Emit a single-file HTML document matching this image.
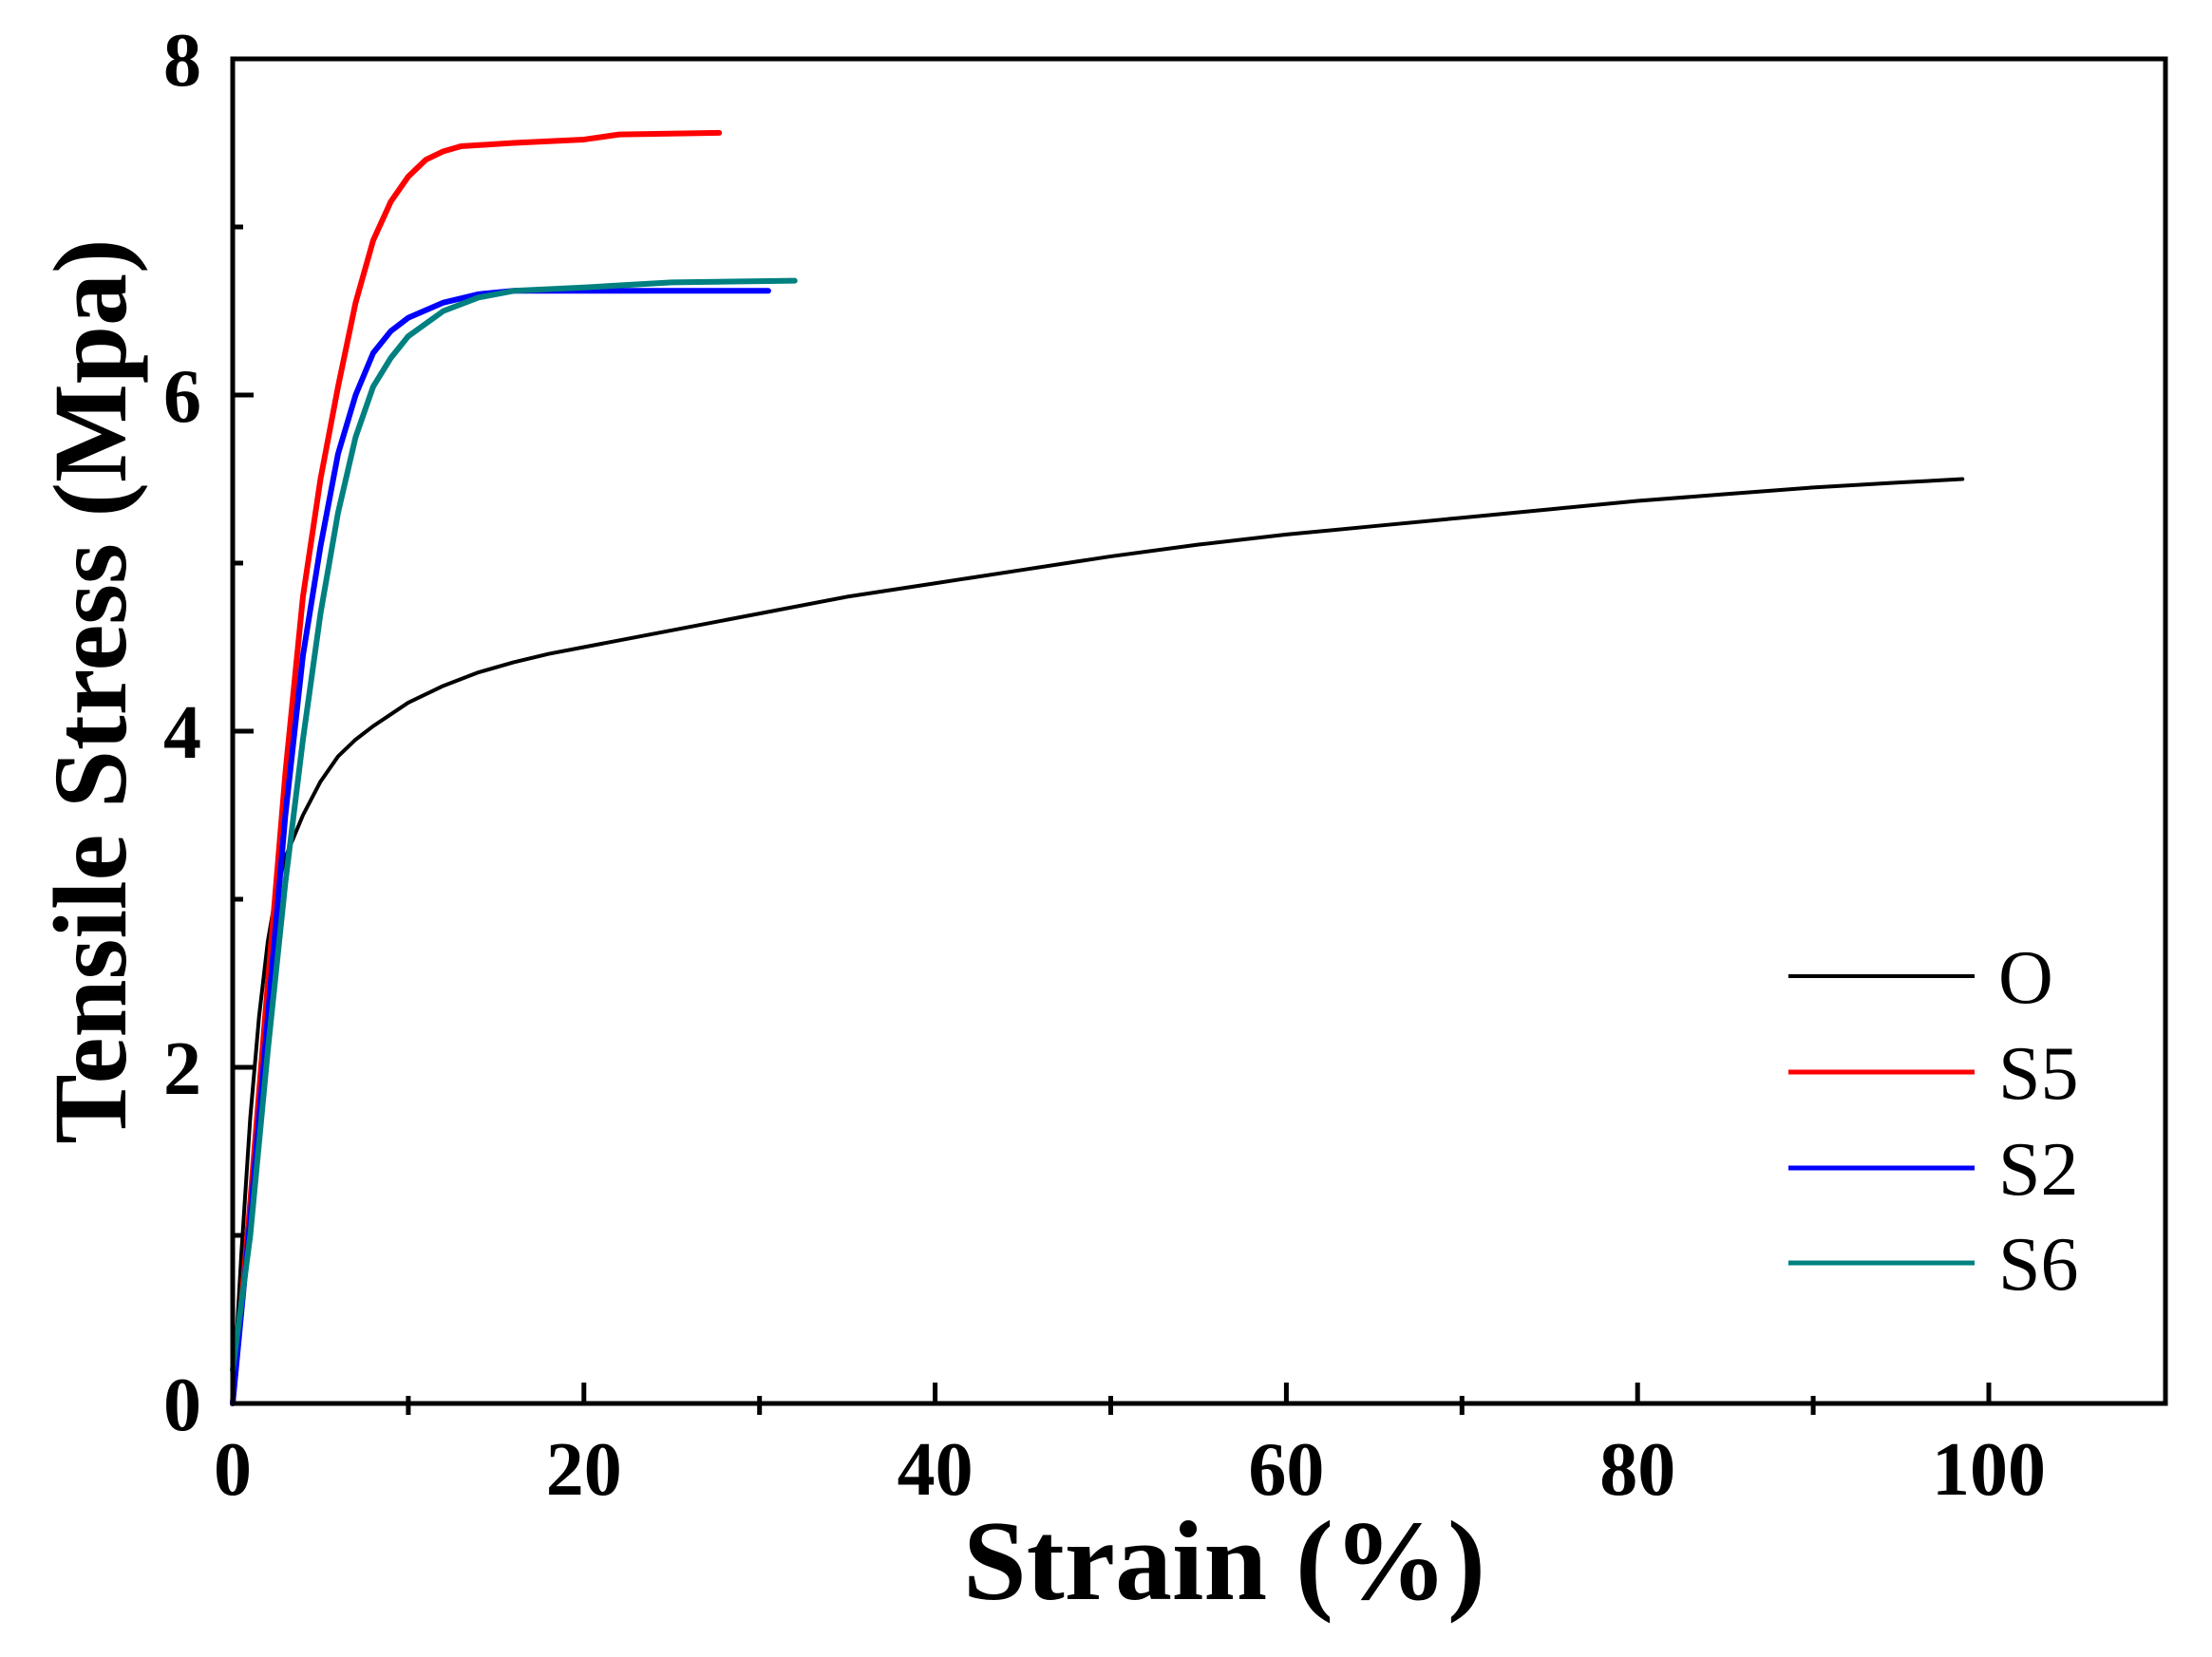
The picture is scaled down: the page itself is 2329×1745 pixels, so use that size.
<!DOCTYPE html>
<html><head><meta charset="utf-8"><style>
html,body{margin:0;padding:0;background:#fff}
svg{display:block}
text{font-family:"Liberation Serif",serif}
</style></head><body>
<svg width="2329" height="1745" viewBox="0 0 2329 1745" xmlns="http://www.w3.org/2000/svg">
<rect width="2329" height="1745" fill="#fff"/>
<g fill="none" stroke-linejoin="round" stroke-linecap="round">
<g transform="translate(245,1478) scale(18.49,-177)">
<polyline vector-effect="non-scaling-stroke" stroke="#000" stroke-width="4" points="0,0 0.5,0.9 1,1.7 1.5,2.3 2,2.75 2.5,3.05 3,3.25 4,3.5 5,3.7 6,3.85 7,3.95 8,4.03 9,4.1 10,4.17 12,4.27 14,4.35 16,4.41 18,4.46 20,4.5 25,4.6 30,4.7 35,4.8 40,4.88 45,4.96 50,5.04 55,5.11 60,5.17 65,5.22 70,5.27 75,5.32 80,5.37 85,5.41 90,5.45 95,5.48 98.5,5.5"/>
<polyline vector-effect="non-scaling-stroke" stroke="#ff0000" stroke-width="6" points="0,0 1,1.2 2,2.5 3,3.75 4,4.8 5,5.5 6,6.05 7,6.55 8,6.92 9,7.15 10,7.3 11,7.4 12,7.45 13,7.48 16,7.5 20,7.52 22,7.55 27.7,7.56"/>
<polyline vector-effect="non-scaling-stroke" stroke="#0000ff" stroke-width="6" points="0,0 1,1.1 2,2.3 3,3.5 4,4.45 5,5.1 6,5.65 7,6.0 8,6.25 9,6.38 10,6.46 12,6.55 14,6.6 16,6.62 20,6.62 30.5,6.62"/>
<polyline vector-effect="non-scaling-stroke" stroke="#008080" stroke-width="6" points="0,0.2 1,1.0 2,2.1 3,3.1 4,3.95 5,4.7 6,5.3 7,5.75 8,6.05 9,6.22 10,6.35 12,6.5 14,6.58 16,6.62 20,6.64 25,6.67 32,6.68"/>
</g>
</g>
<rect x="245" y="62" width="2035" height="1416" fill="none" stroke="#000" stroke-width="5"/>
<g stroke="#000" stroke-width="5">
<line x1="245" y1="1478" x2="245" y2="1462"/>
<line x1="614.8" y1="1478" x2="614.8" y2="1456"/>
<line x1="984.6" y1="1478" x2="984.6" y2="1456"/>
<line x1="1354.4" y1="1478" x2="1354.4" y2="1456"/>
<line x1="1724.2" y1="1478" x2="1724.2" y2="1456"/>
<line x1="2094" y1="1478" x2="2094" y2="1456"/>
<line x1="429.9" y1="1470" x2="429.9" y2="1490"/>
<line x1="799.7" y1="1470" x2="799.7" y2="1490"/>
<line x1="1169.5" y1="1470" x2="1169.5" y2="1490"/>
<line x1="1539.3" y1="1470" x2="1539.3" y2="1490"/>
<line x1="1909.1" y1="1470" x2="1909.1" y2="1490"/>
<line x1="245" y1="1124" x2="267" y2="1124"/>
<line x1="245" y1="770" x2="267" y2="770"/>
<line x1="245" y1="416" x2="267" y2="416"/>
<line x1="245" y1="1301" x2="256" y2="1301"/>
<line x1="245" y1="947" x2="256" y2="947"/>
<line x1="245" y1="593" x2="256" y2="593"/>
<line x1="245" y1="239" x2="256" y2="239"/>
</g>
<g font-weight="bold" font-size="80" fill="#000">
<g text-anchor="end">
<text x="212" y="1506">0</text>
<text x="212" y="1152">2</text>
<text x="212" y="798">4</text>
<text x="212" y="444">6</text>
<text x="212" y="90">8</text>
</g>
<g text-anchor="middle">
<text x="245" y="1574">0</text>
<text x="614.8" y="1574">20</text>
<text x="984.6" y="1574">40</text>
<text x="1354.4" y="1574">60</text>
<text x="1724.2" y="1574">80</text>
<text x="2094" y="1574">100</text>
</g>
<text x="1289" y="1684" text-anchor="middle" font-size="120">Strain (%)</text>
<text transform="translate(132,728) rotate(-90)" text-anchor="middle" font-size="110">Tensile Stress (Mpa)</text>
</g>
<g stroke-width="5">
<line x1="1883" y1="1028" x2="2079" y2="1028" stroke="#000" stroke-width="4"/>
<line x1="1883" y1="1129" x2="2079" y2="1129" stroke="#ff0000"/>
<line x1="1883" y1="1230" x2="2079" y2="1230" stroke="#0000ff"/>
<line x1="1883" y1="1330" x2="2079" y2="1330" stroke="#008080"/>
</g>
<g font-size="80" fill="#000">
<text x="2104" y="1056">O</text>
<text x="2104" y="1157">S5</text>
<text x="2104" y="1258">S2</text>
<text x="2104" y="1358">S6</text>
</g>
</svg>
</body></html>
